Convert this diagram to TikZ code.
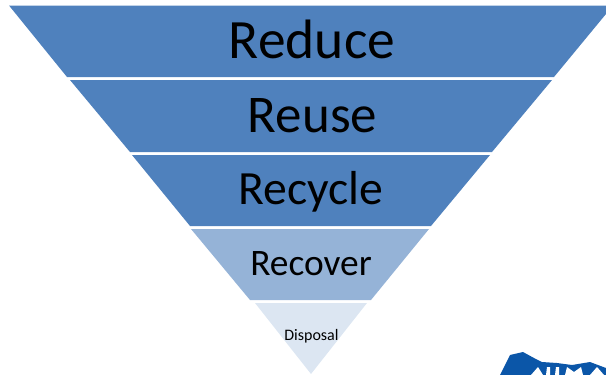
\documentclass[tikz,border=0pt]{standalone}
\usepackage{fontspec}
\setmainfont{Carlito}
\definecolor{dark}{HTML}{4F81BD}
\definecolor{mid}{HTML}{95B3D7}
\definecolor{pale}{HTML}{DCE6F2}
\definecolor{logoblue}{HTML}{0B56A8}
\tikzset{lab/.style={text=black,inner sep=0pt,anchor=base}}
\begin{document}
\begin{tikzpicture}[x=1pt,y=-1pt]
\useasboundingbox (0,0) rectangle (606,375);
\fill[dark] (9,5.5) -- (613,5.5) -- (554,77) -- (67,77) -- cycle;
\fill[dark] (70,80) -- (552,80) -- (492,152) -- (130,152) -- cycle;
\fill[dark] (132,155) -- (490,155) -- (431,226) -- (190,226) -- cycle;
\fill[mid] (191,229) -- (429,229) -- (371,300) -- (250,300) -- cycle;
\fill[pale] (255,303) -- (367,303) -- (311,374) -- cycle;
\node[lab,font=\fontsize{55.5}{56}\selectfont] (reduce) at (312,58) {Reduce};
\node[lab,font=\fontsize{53}{53}\selectfont] (reuse) at (312.5,132) {Reuse};
\node[lab,font=\fontsize{47.7}{48}\selectfont] (recycle) at (311,204) {Recycle};
\node[lab,font=\fontsize{37.4}{38}\selectfont] (recover) at (311,275) {Recover};
\node[lab,font=\fontsize{16}{16}\selectfont] (disposal) at (311.5,340) {Disposal};
\fill[logoblue] (500,375) -- (510,355) -- (523,352) -- (534,358) -- (542,362) -- (557,363) -- (572,365) -- (590,362) -- (606,368) -- (606,375) -- cycle;
\fill[white] (531,375) -- (538,367) -- (543,375) -- cycle;
\fill[white] (546,375) -- (547,367) -- (550,367) -- (550,375) -- cycle;
\fill[white] (555,375) -- (556,367) -- (559,367) -- (559,375) -- cycle;
\fill[white] (565,375) -- (567,367) -- (574,372) -- (581,367) -- (583,375) -- cycle;
\fill[white] (590,375) -- (597,367) -- (604,375) -- cycle;
\end{tikzpicture}
\end{document}
